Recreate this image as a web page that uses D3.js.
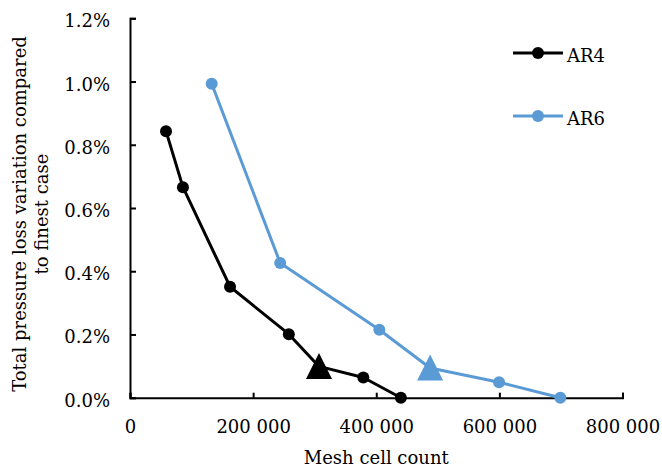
<!DOCTYPE html>
<html>
<head>
<meta charset="utf-8">
<script src="https://cdn.jsdelivr.net/npm/d3@7"></script>
<style>
  html, body { margin: 0; padding: 0; background: #fff; }
  svg { display: block; }
  text { font-family: "DejaVu Serif", serif; fill: #000; }
</style>
</head>
<body>
<svg id="chart" width="662" height="470"></svg>
<script>
// ---- data ----
const seriesNames = ["AR4", "AR6"];
const ar4Cells = [58500, 86000, 162500, 258000, 307000, 379000, 440000];
const ar4Values = [0.00843, 0.00666, 0.00351, 0.00201, 0.00099, 0.00064, 0.0];
const ar4Chosen = 4; // triangle marker point
const ar6Cells = [132700, 244000, 405000, 487500, 599500, 699000];
const ar6Values = [0.00993, 0.00426, 0.00215, 0.00094, 0.00049, 0.0];
const ar6Chosen = 3; // triangle marker point
const xTicks = [0, 200000, 400000, 600000, 800000];
const yTicks = [0, 0.002, 0.004, 0.006, 0.008, 0.010, 0.012];
const xTitle = "Mesh cell count";
const yTitleLines = ["Total pressure loss variation compared", "to finest case"];

(function () {
// ---- layout ----
const svg = d3.select("#chart");
const pLeft = 130, pRight = 622.5, pTop = 18.3, pBottom = 397.7;
const x = d3.scaleLinear().domain([0, 800000]).range([pLeft, pRight]);
const y = d3.scaleLinear().domain([0, 0.012]).range([pBottom, pTop]);

const loc = d3.formatLocale({decimal: ".", thousands: "\u00a0", grouping: [3], currency: ["", ""]});
const fx = loc.format(",");
const fy = d3.format(".1%");

// axes
const xAxis = d3.axisBottom(x).tickValues(xTicks).tickSizeInner(-5).tickSizeOuter(-5).tickPadding(0).tickFormat(fx);
const yAxis = d3.axisLeft(y).tickValues(yTicks).tickSizeInner(-6).tickSizeOuter(-6).tickPadding(0).tickFormat(fy);

const gx = svg.append("g").attr("transform", `translate(0,${pBottom})`).call(xAxis);
const gy = svg.append("g").attr("transform", `translate(${pLeft},0)`).call(yAxis);
[gx, gy].forEach(g => {
  g.selectAll("path.domain").attr("stroke", "#000").attr("stroke-width", 2);
  g.selectAll(".tick line").attr("stroke", "#000").attr("stroke-width", 2);
  g.selectAll(".tick text").style("font-family", '"DejaVu Serif", serif').style("font-size", "18px").attr("fill", "#000");
});
gx.selectAll(".tick text").attr("dy", null).attr("y", 35);
gy.selectAll(".tick text").attr("dy", null).attr("x", -20).attr("y", 8.5);

// axis titles
svg.append("text").attr("x", (pLeft + pRight) / 2).attr("y", 464)
  .attr("text-anchor", "middle").style("font-size", "18px").text(xTitle);
const yt = svg.append("text").attr("transform", "translate(0,214) rotate(-90)")
  .attr("text-anchor", "middle").style("font-size", "18px");
yt.append("tspan").attr("x", 0).attr("y", 26).text(yTitleLines[0]);
yt.append("tspan").attr("x", 0).attr("y", 48).text(yTitleLines[1]);

// series
const series = [
  {name: seriesNames[0], xs: ar4Cells, ys: ar4Values, chosen: ar4Chosen, color: "#000000"},
  {name: seriesNames[1], xs: ar6Cells, ys: ar6Values, chosen: ar6Chosen, color: "#5B9BD5"}
];
const line = d3.line().x(d => x(d[0])).y(d => y(d[1]));
const tri = (cx, cy) => `M${cx},${cy - 13.5}L${cx + 13},${cy + 12.5}L${cx - 13},${cy + 12.5}Z`;

series.forEach(s => {
  const pts = s.xs.map((v, i) => [v, s.ys[i], i]);
  svg.append("path").datum(pts).attr("d", line)
    .attr("fill", "none").attr("stroke", s.color).attr("stroke-width", 3).attr("stroke-linejoin", "round");
  svg.append("g").selectAll("circle").data(pts.filter(p => p[2] !== s.chosen)).join("circle")
    .attr("cx", d => x(d[0])).attr("cy", d => y(d[1])).attr("r", 6).attr("fill", s.color);
  svg.append("g").selectAll("path").data(pts.filter(p => p[2] === s.chosen)).join("path")
    .attr("d", d => tri(x(d[0]), y(d[1]))).attr("fill", s.color);
});

// legend
const legY = [53, 116];
series.forEach((s, i) => {
  const g = svg.append("g").attr("transform", `translate(0,${legY[i]})`);
  g.append("line").attr("x1", 513).attr("x2", 563).attr("y1", 0).attr("y2", 0)
    .attr("stroke", s.color).attr("stroke-width", 3);
  g.append("circle").attr("cx", 538).attr("cy", 0).attr("r", 6).attr("fill", s.color);
  g.append("text").attr("x", 567).attr("y", 8.5).style("font-size", "18px").text(s.name);
});
})();
</script>
</body>
</html>
